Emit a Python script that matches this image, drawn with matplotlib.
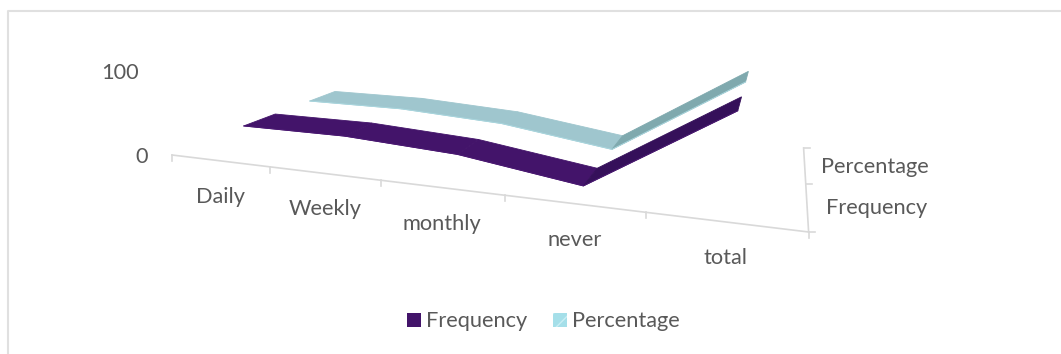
import matplotlib

matplotlib.use("Agg")
import matplotlib.pyplot as plt
from matplotlib.patches import Polygon, Rectangle

categories = ["Daily", "Weekly", "monthly", "never", "total"]
frequency = [34, 34, 26, 6, 100]
percentage = [34, 34, 26, 6, 100]
series_names = ["Frequency", "Percentage"]
value_ticks = [0, 100]

GREY = "#595959"
AXIS = "#d9d9d9"
FONT = 15.7
RIBBON = 0.45  # ribbon width, in depth units

# perspective matrix of the chart box: (category, depth, value) -> canvas pixels
PX = (172.0, 83.9, 94.6, 0.08)
PY = (155.0, 2.94, -12.96, -0.77)
PW = (1.0, -0.0537, 0.12, 0.0)
KEYSTONE = 2.0  # extra lean of the depth lines toward the left end


def project(u, v, z=0.0):
    w = PW[0] + PW[1] * u + PW[2] * v + PW[3] * z
    x = (PX[0] + PX[1] * u + PX[2] * v + PX[3] * z + KEYSTONE * v * (5 - u)) / w
    y = (PY[0] + PY[1] * u + PY[2] * v + PY[3] * z) / w
    return x, y


def draw_ribbon(ax, values, depth, fall, rise, rim):
    lo = depth + 0.5 - RIBBON / 2
    hi = depth + 0.5 + RIBBON / 2
    front = []
    for i in range(len(values) - 1):
        u0, u1 = i + 0.5, i + 1.5
        pts = [
            project(u0, lo, values[i]),
            project(u1, lo, values[i + 1]),
            project(u1, hi, values[i + 1]),
            project(u0, hi, values[i]),
        ]
        color = rise if values[i + 1] > values[i] else fall
        ax.add_patch(Polygon(pts, closed=True, fc=color, ec=color, lw=0.6, zorder=3 + depth))
        front.append(pts[0])
    front.append(pts[1])
    ax.plot(*zip(*front), color=rim, lw=0.7, zorder=3.5 + depth)


fig = plt.figure(figsize=(10.61, 3.54), dpi=100)
ax = fig.add_axes([0, 0, 1, 1])
ax.set_xlim(0, 1061)
ax.set_ylim(354, 0)
ax.axis("off")
plt.rcParams["font.family"] = ["Lato", "DejaVu Sans"]

# chart area border, open at the bottom and on the right
ax.plot([8, 8, 1061], [354, 10.5, 10.5], color="#e0e0e0", lw=1.5)

# category axis along the front of the floor
n = len(categories)
ax.plot(*zip(project(0, 0), project(n, 0)), color=AXIS, lw=1.2)
for i in range(n + 1):
    x, y = project(i, 0)
    ax.plot([x, x], [y, y + 6], color=AXIS, lw=1.2)
for i, name in enumerate(categories):
    x, y = project(i + 0.5, 0)
    ax.text(x + 1, y + 36, name, color=GREY, fontsize=FONT, ha="center", va="center")

# series axis on the right side of the floor
ax.plot(*zip(project(n, 0), project(n, 2)), color=AXIS, lw=1.2)
for d in range(3):
    x, y = project(n, d)
    ax.plot([x, x + 6], [y, y], color=AXIS, lw=1.2)
for d, name in enumerate(series_names):
    x, y = project(n, d + 0.5)
    ax.text(x + 70, y + 2, name, color=GREY, fontsize=FONT, ha="center", va="center")

# value labels beside the back corner
x0, _ = project(0, 0)
for val in value_ticks:
    _, y = project(0, 0, val)
    ax.text(x0 - 24 - 9 * val / 100, y + 2 - 7 * val / 100, str(val), color=GREY, fontsize=FONT,
            ha="right", va="center")

draw_ribbon(ax, percentage, 1, "#9fc6ce", "#7fa9ae", "#a9d6de")
draw_ribbon(ax, frequency, 0, "#43146a", "#35105a", "#4a1872")

# legend row
ax.add_patch(Rectangle((407, 313), 14, 14, fc="#43146a", ec="none"))
ax.text(426, 321, series_names[0], color=GREY, fontsize=FONT, ha="left", va="center")
ax.add_patch(Rectangle((553, 313), 14, 14, fc="#a5dfe9", ec="#c9eef4", lw=0, hatch="//"))
ax.text(572, 321, series_names[1], color=GREY, fontsize=FONT, ha="left", va="center")

fig.savefig("out.png", dpi=100)
